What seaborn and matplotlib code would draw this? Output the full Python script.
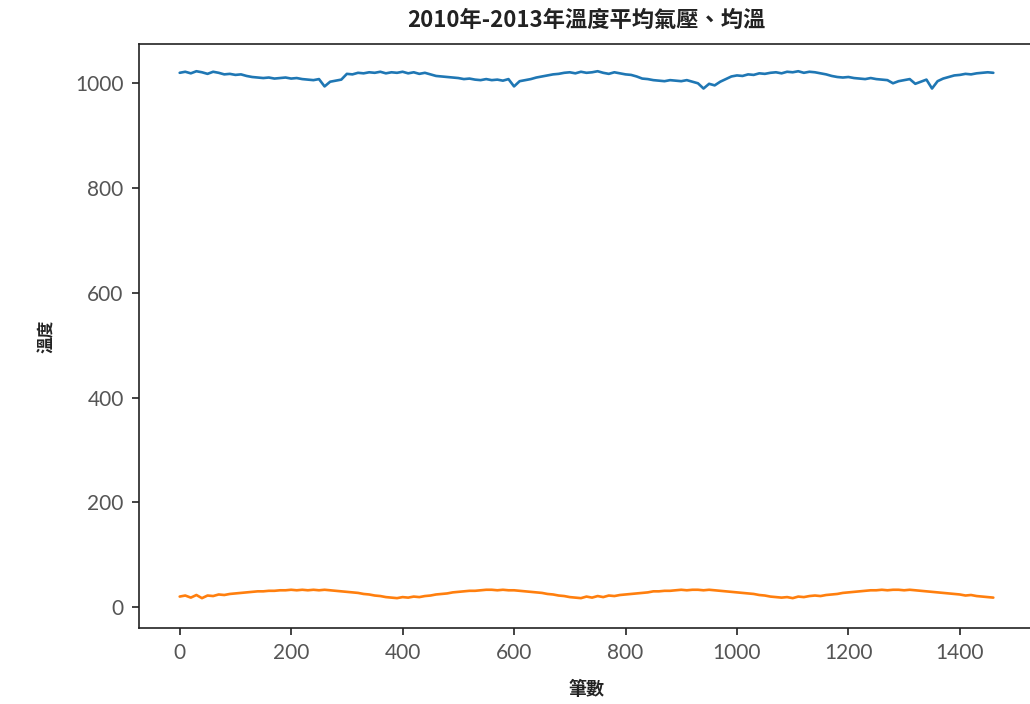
import numpy as np
import pandas as pd
import matplotlib
matplotlib.use("Agg")
import matplotlib.pyplot as plt
import seaborn as sns

# Sampled every 10 records (index 0..1460)
step = 10
pressure = [
    1020, 1022, 1019, 1023, 1021, 1018, 1022, 1020, 1017, 1018,
    1016, 1017, 1014, 1012, 1011, 1010, 1011, 1009, 1010, 1011,
    1009, 1010, 1008, 1007, 1006, 1008, 994, 1003, 1005, 1007,
    1018, 1017, 1020, 1019, 1021, 1020, 1022, 1019, 1021, 1020,
    1022, 1019, 1021, 1018, 1020, 1017, 1014, 1013, 1012, 1011,
    1010, 1008, 1009, 1007, 1006, 1008, 1006, 1007, 1005, 1008,
    994, 1004, 1006, 1008, 1011, 1013, 1015, 1017, 1018, 1020,
    1021, 1019, 1022, 1020, 1021, 1023, 1020, 1018, 1021, 1019,
    1017, 1016, 1013, 1009, 1008, 1006, 1005, 1004, 1006, 1005,
    1004, 1006, 1003, 1000, 990, 999, 996, 1003, 1008, 1013,
    1015, 1014, 1017, 1016, 1019, 1018, 1020, 1021, 1019, 1022,
    1021, 1023, 1020, 1022, 1021, 1019, 1017, 1014, 1012, 1011,
    1012, 1010, 1009, 1008, 1010, 1008, 1007, 1006, 1000, 1004,
    1006, 1008, 999, 1003, 1007, 990, 1004, 1009, 1012, 1015,
    1016, 1018, 1017, 1019, 1020, 1021, 1020,
]
temperature = [
    20, 22, 18, 23, 17, 22, 21, 24, 23, 25,
    26, 27, 28, 29, 30, 30, 31, 31, 32, 32,
    33, 32, 33, 32, 33, 32, 33, 32, 31, 30,
    29, 28, 27, 25, 24, 22, 21, 19, 18, 17,
    19, 18, 20, 19, 21, 22, 24, 25, 26, 28,
    29, 30, 31, 31, 32, 33, 33, 32, 33, 32,
    32, 31, 30, 29, 28, 27, 25, 24, 22, 21,
    19, 18, 17, 20, 18, 21, 19, 22, 21, 23,
    24, 25, 26, 27, 28, 30, 30, 31, 31, 32,
    33, 32, 33, 33, 32, 33, 32, 31, 30, 29,
    28, 27, 26, 25, 23, 22, 20, 19, 18, 19,
    17, 20, 19, 21, 22, 21, 23, 24, 25, 27,
    28, 29, 30, 31, 32, 32, 33, 32, 33, 33,
    32, 33, 32, 31, 30, 29, 28, 27, 26, 25,
    24, 22, 23, 21, 20, 19, 18,
]
title = "2010年-2013年溫度平均氣壓、均溫"
xlabel = "筆數"
ylabel = "溫度"

idx = np.arange(len(pressure)) * step
df = pd.DataFrame({"idx": idx, "pressure": pressure, "temperature": temperature})

sns.set_theme(style="ticks")
plt.rcParams["font.family"] = ["Noto Sans CJK TC", "DejaVu Sans"]

fig = plt.figure(figsize=(10.30, 7.04), dpi=100)
ax = fig.add_axes([139 / 1030, 1 - 628 / 704, (1034 - 139) / 1030, (628 - 44) / 704])

sns.lineplot(data=df, x="idx", y="pressure", ax=ax, color="#1f77b4", linewidth=1.9)
sns.lineplot(data=df, x="idx", y="temperature", ax=ax, color="#ff7f0e", linewidth=1.9)

ax.set_xlim(-73, 1533)
ax.set_ylim(-40, 1075)
ax.set_xticks([0, 200, 400, 600, 800, 1000, 1200, 1400])
ax.set_yticks([0, 200, 400, 600, 800, 1000])
for sp in ax.spines.values():
    sp.set_color("#222222")
    sp.set_linewidth(1.2)
ax.tick_params(axis="both", direction="out", length=5, width=1.2, color="#222222",
               labelsize=15, labelcolor="#555555", pad=6)
for lab in ax.get_xticklabels() + ax.get_yticklabels():
    lab.set_fontfamily(["Lato", "DejaVu Sans"])

ax.set_title(title, fontsize=16, pad=12, color="#222222", fontweight="bold")
ax.set_xlabel(xlabel, fontsize=13, labelpad=12, color="#222222", fontweight="bold")
ax.set_ylabel(ylabel, fontsize=12, labelpad=14, color="#222222", fontweight="bold")

fig.savefig("out.png", dpi=100)
